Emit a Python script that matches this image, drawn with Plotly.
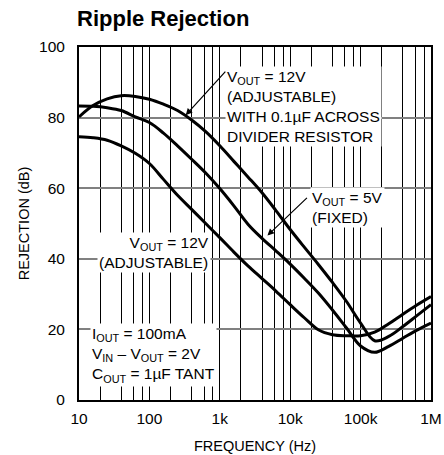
import math
import plotly.graph_objects as go

# ---- data (values at 0.2-decade steps) ----
freq = [10, 15.85, 25.12, 39.81, 63.10, 100, 158.5, 251.2, 398.1, 631.0,
        1000, 1585, 2512, 3981, 6310, 10000, 15850, 25120, 39810, 63100,
        100000, 158500, 251200, 398100, 631000, 1000000]

# VOUT = 12V (adjustable) with 0.1uF across divider resistor
rej_12v_cap = [80.2, 83.4, 85.3, 86.2, 86.0, 85.2, 83.8, 82.0, 79.3, 76.0,
               72.0, 67.6, 63.2, 58.7, 53.6, 48.3, 43.3, 38.4, 33.3, 27.9,
               21.8, 16.8, 18.0, 20.8, 23.9, 27.0]

# VOUT = 5V (fixed)
rej_5v = [83.3, 83.2, 82.8, 82.0, 80.2, 78.6, 75.6, 72.0, 68.2, 64.3,
          59.9, 55.0, 49.8, 45.8, 42.2, 38.5, 34.5, 30.3, 25.5, 20.4,
          15.3, 13.5, 15.2, 17.5, 19.8, 21.8]

# VOUT = 12V (adjustable)
rej_12v = [74.6, 74.3, 73.6, 72.0, 69.9, 67.0, 62.5, 58.0, 54.0, 50.0,
           46.0, 41.9, 38.0, 34.4, 30.8, 27.0, 23.3, 19.9, 18.5, 18.2,
           18.2, 19.2, 21.6, 24.3, 26.9, 29.3]

y_ticks = [0, 20, 40, 60, 80, 100]
x_decades = [10, 100, 1000, 10000, 100000, 1000000]
x_decade_labels = ["10", "100", "1k", "10k", "100k", "1M"]
x_minor_mult = [2, 4, 6, 8]

FONT = "Liberation Sans, Arial, Helvetica, sans-serif"

x_minor_vals = [d * m for d in x_decades[:-1] for m in x_minor_mult]

fig = go.Figure()
for r in [rej_12v_cap, rej_5v, rej_12v]:
    fig.add_trace(go.Scatter(x=freq, y=r, mode="lines",
                             line=dict(color="black", width=3, shape="spline", smoothing=1),
                             showlegend=False, hoverinfo="skip"))

L = math.log10
txt_font = dict(family=FONT, size=15.5, color="black")

annotations = [
    dict(x=L(1200), y=83.2, xref="x", yref="y", xanchor="left", yanchor="middle", align="left",
         text="V<sub>OUT</sub> = 12V<br>(ADJUSTABLE)<br>WITH 0.1µF ACROSS<br>DIVIDER RESISTOR",
         showarrow=False, bgcolor="white", borderpad=1, font=txt_font),
    dict(x=L(19000), y=54.5, xref="x", yref="y", xanchor="left", yanchor="middle", align="left",
         text="V<sub>OUT</sub> = 5V<br>(FIXED)",
         showarrow=False, bgcolor="white", borderpad=1, font=txt_font),
    dict(x=L(760), y=41.9, xref="x", yref="y", xanchor="right", yanchor="middle", align="right",
         text="V<sub>OUT</sub> = 12V<br>(ADJUSTABLE)",
         showarrow=False, bgcolor="white", borderpad=1, font=txt_font),
    dict(x=L(14.5), y=12.8, xref="x", yref="y", xanchor="left", yanchor="middle", align="left",
         text="I<sub>OUT</sub> = 100mA<br>V<sub>IN</sub> – V<sub>OUT</sub> = 2V<br>C<sub>OUT</sub> = 1µF TANT",
         showarrow=False, bgcolor="white", borderpad=1, font=txt_font),
    dict(x=L(328), y=80.7, xref="x", yref="y", text="", showarrow=True,
         ax=41, ay=-45, arrowhead=2, arrowsize=1.1, arrowwidth=1.2, arrowcolor="black", standoff=0),
    dict(x=L(4750), y=46.6, xref="x", yref="y", text="", showarrow=True,
         ax=41, ay=-39, arrowhead=2, arrowsize=1.1, arrowwidth=1.2, arrowcolor="black", standoff=0),
]

fig.update_layout(
    width=444, height=455,
    margin=dict(l=79, r=13, t=47, b=55, autoexpand=False),
    paper_bgcolor="white", plot_bgcolor="white",
    font=dict(family=FONT, color="black"),
    title=dict(text="<b>Ripple Rejection</b>", x=77 / 444, xref="container", xanchor="left",
               y=1 - 18 / 455, yref="container", yanchor="middle", automargin=False,
               font=dict(family=FONT, size=22, color="black")),
    annotations=annotations,
)

fig.update_xaxes(type="log", range=[1, 6], tickmode="array", tickvals=x_decades,
                 ticktext=x_decade_labels,
                 showgrid=True, gridcolor="black", gridwidth=1.4,
                 minor=dict(tickmode="array", tickvals=x_minor_vals, showgrid=True,
                            gridcolor="black", gridwidth=1.4, ticks=""),
                 showline=True, linecolor="black", linewidth=2, mirror=True,
                 ticks="", ticklabelstandoff=3, zeroline=False, automargin=False,
                 tickfont=dict(family=FONT, size=15.5, color="black"),
                 title=dict(text="FREQUENCY (Hz)", standoff=15,
                            font=dict(family=FONT, size=14.5, color="black")))
fig.update_yaxes(range=[0, 100], tickmode="array", tickvals=y_ticks,
                 showgrid=True, gridcolor="#808080", gridwidth=1.5,
                 showline=True, linecolor="black", linewidth=2, mirror=True,
                 ticks="", ticklabelstandoff=9, zeroline=False, automargin=False,
                 tickfont=dict(family=FONT, size=15.5, color="black"),
                 title=dict(text="REJECTION (dB)", standoff=6,
                            font=dict(family=FONT, size=14.5, color="black")))

fig.write_html("out.html", config={"displayModeBar": False},
               post_script="document.body.style.margin='0';document.body.style.padding='0';")
